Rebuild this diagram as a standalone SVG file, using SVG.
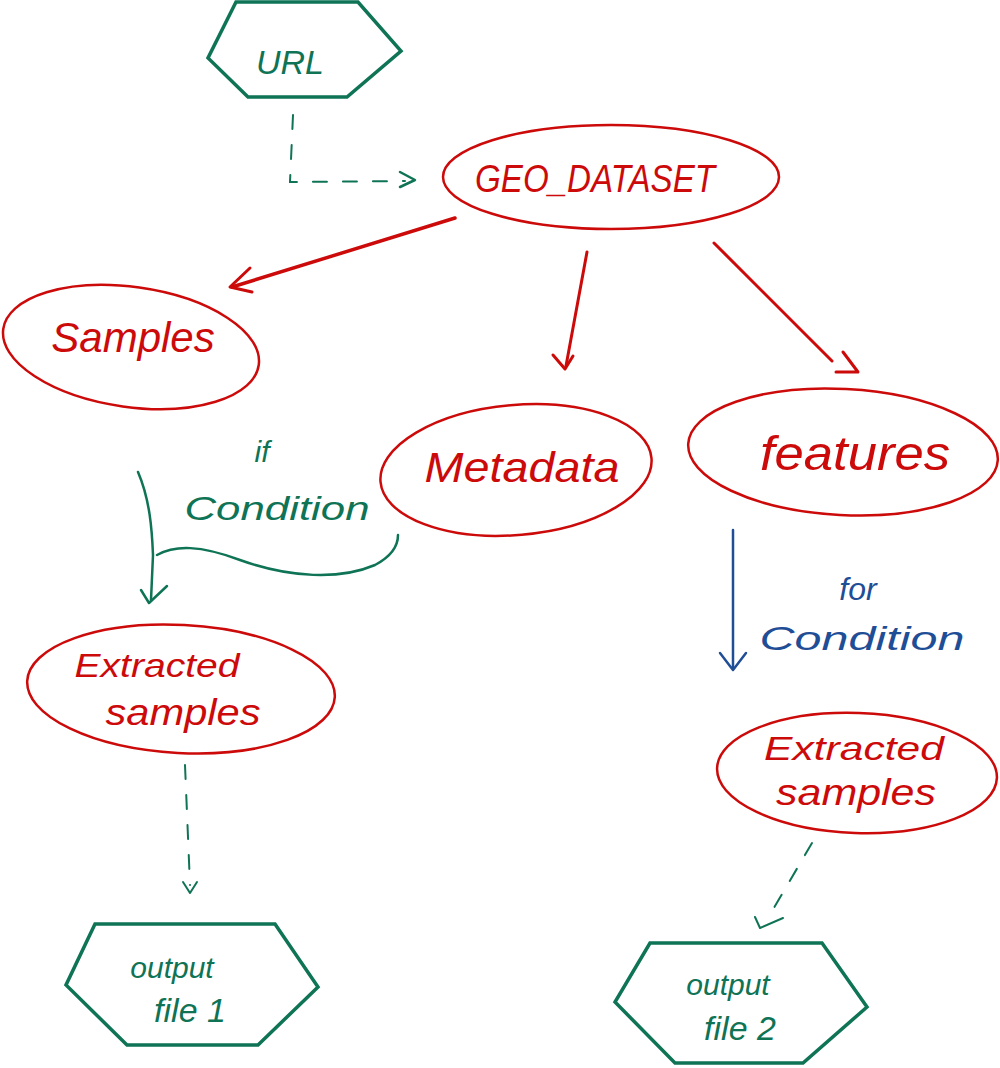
<svg xmlns="http://www.w3.org/2000/svg" width="1000" height="1068" viewBox="0 0 1000 1068">
<style>
.red{fill:none;stroke:#cc0a0a;stroke-width:2.5;stroke-linecap:round;stroke-linejoin:round}
.grn{fill:none;stroke:#0f7355;stroke-width:3.5;stroke-linejoin:miter}
.gline{fill:none;stroke:#0f7355;stroke-width:2.5;stroke-linecap:round;stroke-linejoin:round}
.gdash{fill:none;stroke:#0f7355;stroke-width:2;stroke-linecap:round;stroke-dasharray:14 16}
.bline{fill:none;stroke:#1f4e96;stroke-width:2.5;stroke-linecap:round;stroke-linejoin:round}
.tr{fill:#cc0a0a;font-family:"Liberation Sans",sans-serif;font-style:italic;text-anchor:middle}
.tg{fill:#0f7355;font-family:"Liberation Sans",sans-serif;font-style:italic;text-anchor:middle}
.tb{fill:#1f4e96;font-family:"Liberation Sans",sans-serif;font-style:italic;text-anchor:middle}
</style>
<rect width="1000" height="1068" fill="#ffffff"/>
<g id="connectors">
  <path class="gdash" d="M293 115 L290 182 L405 181"/>
  <path class="gline" d="M400 172 L415 180 L400 187"/>
  <path class="red" d="M455 218 L232 287" style="stroke-width:3.5"/>
  <path class="red" d="M250 268 L230 287 L252 292" style="stroke-width:3"/>
  <path class="red" d="M587 252 L566 366" style="stroke-width:3"/>
  <path class="red" d="M553 355 L565 369 L573 356" style="stroke-width:3"/>
  <path class="red" d="M714 243 L832 361" style="stroke-width:3"/>
  <path class="red" d="M843 352 L858 372 L836 372" style="stroke-width:3"/>
  <path class="gline" d="M138 472 C150 500 152 530 153 555 L151 600"/>
  <path class="gline" d="M157 555 C175 545 200 545 240 560 C290 578 340 580 375 565 C392 556 398 545 398 535"/>
  <path class="gline" d="M141 590 L149 603 L167 586"/>
  <path class="bline" d="M733 530 L733 668"/>
  <path class="bline" d="M720 653 L733 670 L746 653"/>
  <path class="gdash" d="M185 765 L190 885"/>
  <path class="gline" d="M183 882 L190 893 L197 882" style="stroke-width:2"/>
  <path class="gdash" d="M812 843 L768 918"/>
  <path class="gline" d="M755 917 L760 928 L783 918" style="stroke-width:2"/>
</g>
<g id="url">
  <path class="grn" d="M236 2 L358 2 L401 51 L347 97 L248 97 L208 58 Z"/>
  <text class="tg" x="290" y="74" font-size="34">URL</text>
</g>
<g id="geo_dataset">
  <ellipse class="red" cx="611" cy="177" rx="168" ry="52"/>
  <text class="tr" x="595" y="192" font-size="38" textLength="240" lengthAdjust="spacingAndGlyphs">GEO_DATASET</text>
</g>
<g id="samples">
  <ellipse class="red" cx="131" cy="347" rx="129" ry="60" transform="rotate(8 131 347)"/>
  <text class="tr" x="133" y="352" font-size="42">Samples</text>
</g>
<g id="metadata">
  <ellipse class="red" cx="516" cy="470" rx="136" ry="65" transform="rotate(-5 516 470)"/>
  <text class="tr" x="522" y="482" font-size="42" textLength="195" lengthAdjust="spacingAndGlyphs">Metadata</text>
</g>
<g id="features">
  <ellipse class="red" cx="843" cy="452" rx="155" ry="63" transform="rotate(3 843 452)"/>
  <text class="tr" x="855" y="470" font-size="48" textLength="190" lengthAdjust="spacingAndGlyphs">features</text>
</g>
<g id="if_label">
  <text class="tg" x="262" y="462" font-size="30">if</text>
  <text class="tg" x="277" y="520" font-size="34" textLength="185" lengthAdjust="spacingAndGlyphs">Condition</text>
</g>
<g id="for_label">
  <text class="tb" x="858" y="600" font-size="32">for</text>
  <text class="tb" x="862" y="650" font-size="34" textLength="205" lengthAdjust="spacingAndGlyphs">Condition</text>
</g>
<g id="extracted_left">
  <ellipse class="red" cx="181" cy="689" rx="154" ry="64" transform="rotate(3 181 689)"/>
  <text class="tr" x="157" y="677" font-size="34" textLength="165" lengthAdjust="spacingAndGlyphs">Extracted</text>
  <text class="tr" x="183" y="725" font-size="36" textLength="155" lengthAdjust="spacingAndGlyphs">samples</text>
</g>
<g id="extracted_right">
  <ellipse class="red" cx="857" cy="773" rx="140" ry="60" transform="rotate(2 857 773)"/>
  <text class="tr" x="854" y="760" font-size="34" textLength="180" lengthAdjust="spacingAndGlyphs">Extracted</text>
  <text class="tr" x="856" y="805" font-size="36" textLength="160" lengthAdjust="spacingAndGlyphs">samples</text>
</g>
<g id="output1">
  <path class="grn" d="M95 924 L275 924 L318 987 L258 1045 L127 1045 L66 985 Z"/>
  <text class="tg" x="172" y="978" font-size="30">output</text>
  <text class="tg" x="190" y="1022" font-size="34">file 1</text>
</g>
<g id="output2">
  <path class="grn" d="M650 943 L822 943 L867 1007 L803 1063 L675 1063 L615 1002 Z"/>
  <text class="tg" x="728" y="995" font-size="30">output</text>
  <text class="tg" x="740" y="1040" font-size="34">file 2</text>
</g>
</svg>
